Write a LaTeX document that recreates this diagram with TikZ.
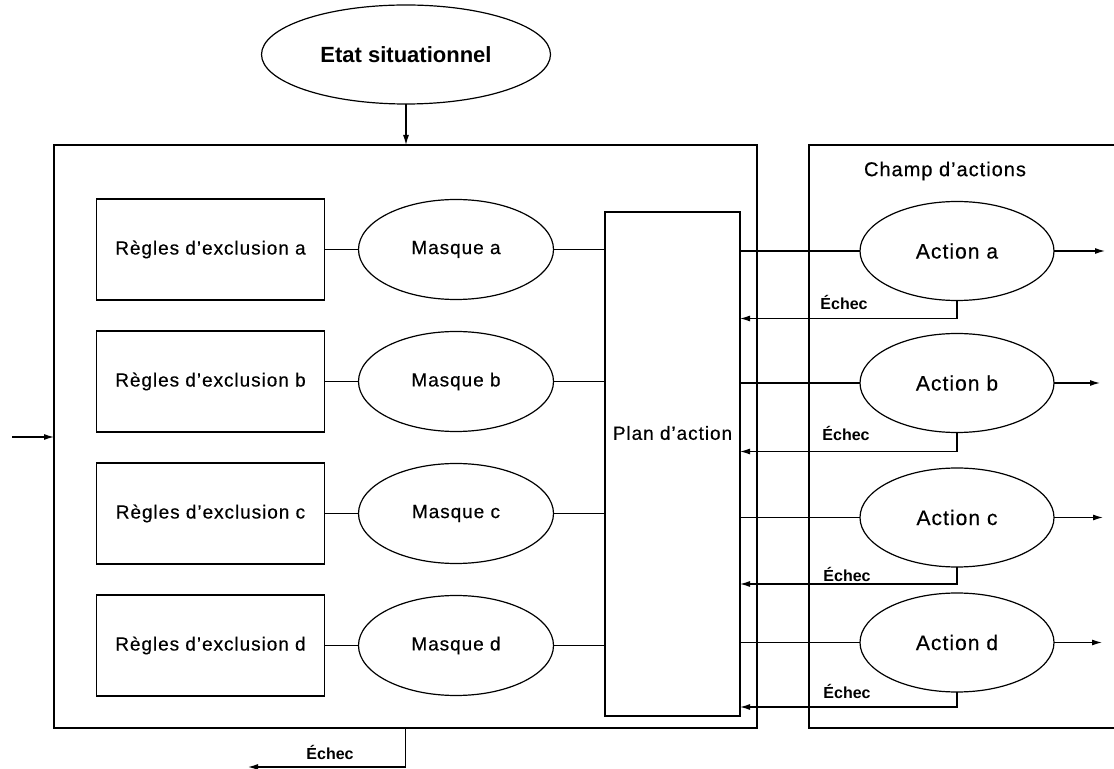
\documentclass[tikz,border=0pt]{standalone}
\usepackage{fontspec}
\usepackage{tikz}
\usetikzlibrary{positioning, arrows.meta, shapes.geometric}
\newfontfamily\diafont[LetterSpace=5, FakeBold=0.4]{Liberation Sans}
\newfontfamily\failfont{Liberation Sans}

\begin{document}
\begin{tikzpicture}[
  x=0.5pt, y=-0.5pt,
  line width=0.6pt,
  node distance=15.5pt and 17pt,
  font=\diafont\fontsize{9.5}{11}\selectfont,
  frame/.style={draw, rectangle, inner sep=0pt, outer sep=0pt},
  rulebox/.style={frame, minimum width=114pt, minimum height=50.5pt},
  mask/.style={draw, ellipse, inner sep=0pt, outer sep=0pt,
               minimum width=97.5pt, minimum height=50pt},
  actnode/.style={draw, ellipse, inner sep=0pt, outer sep=0pt,
                  minimum width=97pt, minimum height=49.5pt,
                  font=\diafont\fontsize{10.5}{12}\selectfont},
  fail/.style={inner sep=0pt, font=\failfont\bfseries\fontsize{8}{9}\selectfont},
  arr/.style={-{Latex[length=5pt, width=3pt]}},
]
\useasboundingbox (0,0) rectangle (1114,769);

\node[draw, ellipse, inner sep=0pt, outer sep=0pt,
      minimum width=144.5pt, minimum height=49.5pt,
      font=\failfont\bfseries\fontsize{11}{13}\selectfont] (etat) at (406,54.5)
  {Etat situationnel};

\node[frame, minimum width=351.5pt, minimum height=291.5pt] (main) at (405.5,436.5) {};
\node[frame, minimum width=67.5pt, minimum height=252pt,
      label={[yshift=15.5pt]center:Plan d’action}] (plan) at (672.5,464) {};

\node[rulebox] (rla) at (210.5,249.5) {Règles d’exclusion a};
\node[rulebox, below=of rla] (rlb) {Règles d’exclusion b};
\node[rulebox, below=of rlb] (rlc) {Règles d’exclusion c};
\node[rulebox, below=of rlc] (rld) {Règles d’exclusion d};
\node[mask, right=of rla] (mka) {Masque a};
\node[mask, right=of rlb] (mkb) {Masque b};
\node[mask, right=of rlc] (mkc) {Masque c};
\node[mask, right=of rld] (mkd) {Masque d};

% champ d'actions
\draw (1114,145) -| (809,728) -- (1114,728);
\node[font=\diafont\fontsize{10}{12}\selectfont] (champ) at (945,171) {Champ d’actions};
\node[actnode] (acta) at (957,251) {Action a};
\node[actnode] (actb) at (957,383) {Action b};
\node[actnode] (actc) at (957,517.5) {Action c};
\node[actnode] (actd) at (957,642.5) {Action d};
\node[fail] (fa) at (844,302) {Échec};
\node[fail] (fb) at (846,433) {Échec};
\node[fail] (fc) at (847,574) {Échec};
\node[fail] (fd) at (847,691) {Échec};
\node[fail] (fmain) at (330,752) {Échec};

\coordinate (inp) at (12,437);
\coordinate (outa) at (1105,251);
\coordinate (outb) at (1100,383);
\coordinate (outc) at (1103,517.5);
\coordinate (outd) at (1102,642.5);
\coordinate (outfail) at (248,767);

\draw[arr] (etat) -- (etat |- main.north);
\draw[arr] (inp) -- (inp -| main.west);
\draw[arr] (main.south) |- (outfail);

\draw (rla) -- (mka);
\draw (rlb) -- (mkb);
\draw (rlc) -- (mkc);
\draw (rld) -- (mkd);
\draw (mka) -- (mka -| plan.west);
\draw (mkb) -- (mkb -| plan.west);
\draw (mkc) -- (mkc -| plan.west);
\draw (mkd) -- (mkd -| plan.west);

\draw (plan.east |- acta) -- (acta);
\draw (plan.east |- actb) -- (actb);
\draw (plan.east |- actc) -- (actc);
\draw (plan.east |- actd) -- (actd);
\draw[arr] (acta) -- (outa);
\draw[arr] (actb) -- (outb);
\draw[arr] (actc) -- (outc);
\draw[arr] (actd) -- (outd);

\draw[arr] (acta.south) -- ++(0,18) coordinate (ea) -- (ea -| plan.east);
\draw[arr] (actb.south) -- ++(0,19) coordinate (eb) -- (eb -| plan.east);
\draw[arr] (actc.south) -- ++(0,17) coordinate (ec) -- (ec -| plan.east);
\draw[arr] (actd.south) -- ++(0,15) coordinate (ed) -- (ed -| plan.east);
\end{tikzpicture}
\end{document}
